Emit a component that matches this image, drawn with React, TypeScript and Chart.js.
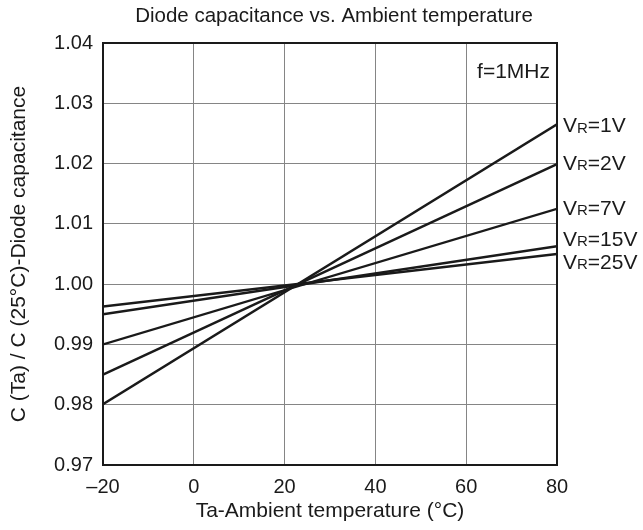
import React, { useEffect, useRef } from "react";
import { Chart, registerables } from "chart.js";

Chart.register(...registerables);

const seriesNames = ["1V", "2V", "7V", "15V", "25V"];
const tempEnds = [-20, 80];
const vr1 = [0.9801, 1.0265];
const vr2 = [0.985, 1.0199];
const vr7 = [0.99, 1.0125];
const vr15 = [0.995, 1.0063];
const vr25 = [0.9963, 1.005];
const seriesValues = [vr1, vr2, vr7, vr15, vr25];
const labelNudge = [2, 0, 0, -6, 9];
const xTickValues = [-20, 0, 20, 40, 60, 80];
const xTickLabels = ["\u201320", "0", "20", "40", "60", "80"];
const yTickValues = [0.97, 0.98, 0.99, 1.0, 1.01, 1.02, 1.03, 1.04];
const yTickLabels = ["0.97", "0.98", "0.99", "1.00", "1.01", "1.02", "1.03", "1.04"];

const FONT = "'Liberation Sans', Arial, Helvetica, sans-serif";
const INK = "#1a1a1a";

export default function App() {
  const ref = useRef<HTMLCanvasElement | null>(null);
  useEffect(() => {
    document.body.style.margin = "0";
    const canvas = ref.current!;
    const annot = {
      id: "annot",
      afterDraw(chart: any) {
        const ctx = chart.ctx;
        const a = chart.chartArea;
        const xs = chart.scales.x;
        const ys = chart.scales.y;
        ctx.save();
        ctx.strokeStyle = INK;
        ctx.lineWidth = 2;
        ctx.strokeRect(a.left, a.top, a.right - a.left, a.bottom - a.top);
        ctx.fillStyle = INK;
        ctx.textAlign = "center";
        ctx.textBaseline = "middle";
        ctx.font = `20.5px ${FONT}`;
        ctx.fillText("Diode capacitance vs. Ambient temperature", (a.left + a.right) / 2 + 4, 16);
        ctx.textAlign = "right";
        ctx.font = `21px ${FONT}`;
        ctx.fillText("f=1MHz", a.right - 7, ys.getPixelForValue(1.0352));
        ctx.textAlign = "left";
        seriesNames.forEach((name, i) => {
          const v = seriesValues[i][1];
          const y = ys.getPixelForValue(v) + labelNudge[i];
          let x = xs.getPixelForValue(80) + 6;
          ctx.font = `21px ${FONT}`;
          ctx.fillText("V", x, y);
          x += ctx.measureText("V").width;
          ctx.font = `15px ${FONT}`;
          ctx.fillText("R", x, y + 2);
          x += ctx.measureText("R").width;
          ctx.font = `21px ${FONT}`;
          ctx.fillText("=" + name, x, y);
        });
        ctx.restore();
      },
    };
    const chart = new Chart(canvas, {
      type: "line",
      data: {
        datasets: seriesNames.map((n, i) => ({
          label: "VR=" + n,
          data: tempEnds.map((t, j) => ({ x: t, y: seriesValues[i][j] })),
          borderColor: INK,
          borderWidth: 2.4,
          pointRadius: 0,
          fill: false,
          tension: 0,
        })),
      },
      options: {
        animation: false,
        responsive: false,
        layout: { padding: { left: 0, top: 43, right: 86, bottom: 0 } },
        plugins: { legend: { display: false }, title: { display: false }, tooltip: { enabled: false } },
        scales: {
          x: {
            type: "linear",
            min: -20,
            max: 80,
            afterFit: (s: any) => { s.height = 65; },
            afterBuildTicks: (s: any) => { s.ticks = xTickValues.map((v) => ({ value: v })); },
            grid: { color: "#858585", lineWidth: 1, drawTicks: false },
            border: { display: false },
            ticks: {
              padding: 10,
              color: INK,
              font: { family: FONT, size: 20 },
              maxRotation: 0,
              callback: (v: any) => xTickLabels[xTickValues.indexOf(Number(v))],
            },
            title: {
              display: true,
              text: "Ta-Ambient temperature (\u00b0C)",
              color: INK,
              font: { family: FONT, size: 21 },
              padding: { top: 0, bottom: 6 },
            },
          },
          y: {
            type: "linear",
            min: 0.97,
            max: 1.04,
            afterFit: (s: any) => { s.width = 103; },
            afterBuildTicks: (s: any) => { s.ticks = yTickValues.map((v) => ({ value: v })); },
            grid: { color: "#858585", lineWidth: 1, drawTicks: false },
            border: { display: false },
            ticks: {
              padding: 10,
              color: INK,
              font: { family: FONT, size: 20 },
              callback: (v: any) => {
                const i = yTickValues.findIndex((t) => Math.abs(t - Number(v)) < 1e-6);
                return i >= 0 ? yTickLabels[i] : "";
              },
            },
            title: {
              display: true,
              text: "C (Ta) / C (25\u00b0C)-Diode capacitance",
              color: INK,
              font: { family: FONT, size: 21 },
              padding: { top: 7, bottom: 0 },
            },
          },
        },
      },
      plugins: [annot],
    });
    return () => chart.destroy();
  }, []);
  return <canvas ref={ref} width={643} height={530} />;
}
